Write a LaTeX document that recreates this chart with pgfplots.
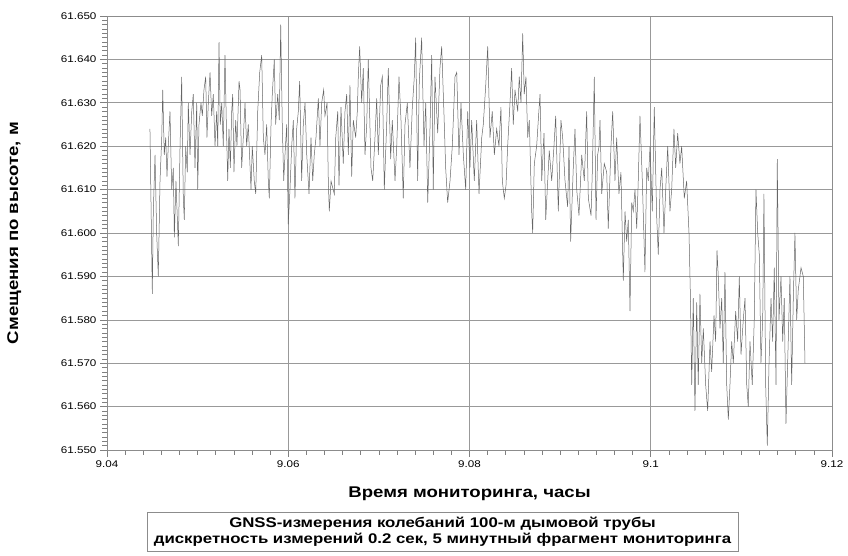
\documentclass[border=0pt]{standalone}
\usepackage{fontspec}
\setmainfont[FakeStretch=1.2]{Liberation Sans}
\usepackage{pgfplots}
\pgfplotsset{compat=1.18}
\begin{document}
\begin{tikzpicture}[x=1pt,y=1pt]
\path[use as bounding box] (0,0) rectangle (848,555);
\begin{axis}[
  at={(107pt,105pt)}, anchor=south west,
  width=725pt, height=434pt, scale only axis,
  xmin=9.04, xmax=9.12, ymin=61.55, ymax=61.65,
  xtick={9.04,9.06,9.08,9.1,9.12},
  xticklabels={9.04,9.06,9.08,9.1,9.12},
  ytick={61.55,61.56,61.57,61.58,61.59,61.60,61.61,61.62,61.63,61.64,61.65},
  yticklabels={61.550,61.560,61.570,61.580,61.590,61.600,61.610,61.620,61.630,61.640,61.650},
  minor x tick num=9, minor y tick num=9,
  xtick pos=bottom, ytick pos=left,
  tick align=outside,
  major tick length=7pt, minor tick length=5pt,
  tick style={black!50, line width=0.6pt},
  grid=major, major grid style={black!40, line width=0.6pt},
  minor grid style={draw=none},
  axis line style={black!45, line width=0.8pt},
  ticklabel style={font=\fontsize{9.7}{12}\selectfont},
  xlabel={Время мониторинга, часы},
  ylabel={Смещения по высоте, м},
  xlabel style={font=\bfseries\fontsize{15.5}{18}\selectfont, at={(axis description cs:0.5,-0.101)}, anchor=center},
  ylabel style={font=\bfseries\fontsize{15.5}{18}\selectfont, at={(axis description cs:-0.128,0.5)}, anchor=center},
  clip=true,
]
\addplot[black!60, line width=0.5pt, mark=none] table {
9.04474 61.624
9.04500 61.586
9.04511 61.605
9.04530 61.618
9.04548 61.600
9.04566 61.590
9.04585 61.612
9.04604 61.622
9.04615 61.633
9.04632 61.618
9.04648 61.622
9.04662 61.613
9.04676 61.620
9.04695 61.628
9.04714 61.610
9.04732 61.615
9.04743 61.599
9.04761 61.612
9.04787 61.597
9.04806 61.620
9.04824 61.636
9.04842 61.608
9.04853 61.603
9.04868 61.620
9.04886 61.614
9.04897 61.630
9.04916 61.618
9.04935 61.628
9.04952 61.632
9.04971 61.615
9.04990 61.630
9.05001 61.610
9.05015 61.625
9.05037 61.630
9.05052 61.627
9.05070 61.633
9.05089 61.636
9.05103 61.622
9.05118 61.630
9.05137 61.637
9.05155 61.627
9.05173 61.632
9.05192 61.620
9.05210 61.628
9.05222 61.620
9.05236 61.644
9.05250 61.625
9.05266 61.630
9.05283 61.620
9.05302 61.641
9.05316 61.626
9.05332 61.612
9.05346 61.624
9.05361 61.615
9.05376 61.628
9.05387 61.632
9.05401 61.614
9.05420 61.626
9.05434 61.620
9.05457 61.635
9.05468 61.633
9.05486 61.615
9.05504 61.622
9.05523 61.630
9.05541 61.620
9.05559 61.625
9.05589 61.610
9.05603 61.620
9.05625 61.612
9.05641 61.609
9.05663 61.628
9.05685 61.637
9.05707 61.641
9.05725 61.622
9.05743 61.618
9.05762 61.625
9.05780 61.612
9.05791 61.608
9.05810 61.625
9.05824 61.632
9.05846 61.640
9.05861 61.625
9.05884 61.632
9.05901 61.626
9.05917 61.648
9.05934 61.625
9.05950 61.612
9.05964 61.618
9.05983 61.625
9.06000 61.602
9.06019 61.610
9.06038 61.620
9.06056 61.626
9.06074 61.608
9.06093 61.624
9.06111 61.628
9.06126 61.635
9.06148 61.612
9.06166 61.625
9.06185 61.630
9.06204 61.618
9.06229 61.609
9.06251 61.622
9.06270 61.612
9.06287 61.618
9.06306 61.622
9.06332 61.631
9.06350 61.620
9.06369 61.630
9.06391 61.633
9.06405 61.627
9.06428 61.630
9.06442 61.612
9.06453 61.605
9.06472 61.612
9.06508 61.609
9.06524 61.622
9.06546 61.628
9.06560 61.611
9.06582 61.629
9.06607 61.616
9.06626 61.628
9.06645 61.632
9.06663 61.618
9.06681 61.634
9.06700 61.613
9.06718 61.626
9.06744 61.622
9.06762 61.628
9.06773 61.636
9.06788 61.643
9.06810 61.630
9.06828 61.638
9.06847 61.618
9.06866 61.625
9.06883 61.640
9.06913 61.615
9.06932 61.612
9.06957 61.622
9.06976 61.631
9.06994 61.618
9.07020 61.634
9.07038 61.636
9.07060 61.610
9.07086 61.625
9.07104 61.638
9.07130 61.617
9.07148 61.626
9.07178 61.612
9.07197 61.620
9.07222 61.636
9.07244 61.626
9.07269 61.608
9.07288 61.625
9.07314 61.630
9.07343 61.615
9.07369 61.629
9.07391 61.636
9.07406 61.645
9.07428 61.612
9.07446 61.635
9.07472 61.645
9.07498 61.620
9.07517 61.630
9.07539 61.607
9.07564 61.624
9.07583 61.641
9.07600 61.610
9.07619 61.636
9.07649 61.623
9.07674 61.638
9.07693 61.643
9.07719 61.627
9.07737 61.615
9.07759 61.607
9.07785 61.612
9.07810 61.620
9.07840 61.636
9.07859 61.637
9.07884 61.618
9.07906 61.630
9.07932 61.618
9.07958 61.610
9.07980 61.628
9.08005 61.615
9.08024 61.626
9.08053 61.612
9.08079 61.626
9.08105 61.609
9.08135 61.622
9.08152 61.625
9.08179 61.634
9.08201 61.643
9.08226 61.622
9.08251 61.628
9.08274 61.618
9.08300 61.624
9.08325 61.620
9.08347 61.629
9.08362 61.612
9.08384 61.608
9.08403 61.611
9.08421 61.620
9.08447 61.630
9.08465 61.638
9.08483 61.625
9.08502 61.633
9.08532 61.628
9.08549 61.636
9.08568 61.630
9.08587 61.646
9.08604 61.632
9.08623 61.636
9.08642 61.622
9.08660 61.626
9.08686 61.605
9.08697 61.600
9.08715 61.616
9.08741 61.620
9.08759 61.626
9.08778 61.632
9.08797 61.612
9.08822 61.623
9.08841 61.603
9.08858 61.610
9.08880 61.619
9.08907 61.612
9.08932 61.620
9.08951 61.627
9.08980 61.605
9.09009 61.626
9.09028 61.622
9.09054 61.612
9.09083 61.606
9.09098 61.620
9.09116 61.598
9.09145 61.615
9.09164 61.624
9.09183 61.610
9.09208 61.604
9.09238 61.618
9.09267 61.612
9.09293 61.628
9.09311 61.608
9.09341 61.604
9.09355 61.614
9.09377 61.636
9.09396 61.603
9.09414 61.618
9.09429 61.620
9.09440 61.626
9.09459 61.609
9.09487 61.616
9.09514 61.614
9.09531 61.601
9.09561 61.620
9.09580 61.628
9.09605 61.612
9.09624 61.622
9.09649 61.609
9.09671 61.614
9.09697 61.589
9.09716 61.605
9.09734 61.598
9.09752 61.603
9.09771 61.582
9.09790 61.607
9.09807 61.605
9.09826 61.610
9.09845 61.601
9.09862 61.612
9.09881 61.627
9.09907 61.612
9.09936 61.591
9.09955 61.615
9.09973 61.612
9.09992 61.620
9.10017 61.605
9.10039 61.629
9.10065 61.604
9.10083 61.595
9.10102 61.610
9.10121 61.615
9.10146 61.600
9.10165 61.610
9.10187 61.620
9.10212 61.605
9.10231 61.610
9.10256 61.624
9.10275 61.615
9.10297 61.623
9.10322 61.616
9.10341 61.620
9.10370 61.608
9.10396 61.612
9.10422 61.600
9.10438 61.585
9.10452 61.565
9.10469 61.585
9.10488 61.559
9.10507 61.584
9.10524 61.565
9.10543 61.586
9.10562 61.570
9.10580 61.578
9.10606 61.565
9.10628 61.559
9.10654 61.575
9.10672 61.568
9.10698 61.581
9.10716 61.575
9.10731 61.596
9.10745 61.590
9.10764 61.578
9.10783 61.585
9.10800 61.570
9.10819 61.591
9.10838 61.565
9.10856 61.557
9.10874 61.565
9.10893 61.575
9.10911 61.570
9.10937 61.582
9.10959 61.575
9.10977 61.590
9.10996 61.572
9.11021 61.580
9.11040 61.585
9.11059 61.565
9.11076 61.560
9.11095 61.575
9.11120 61.565
9.11142 61.580
9.11161 61.610
9.11180 61.600
9.11198 61.595
9.11216 61.570
9.11235 61.580
9.11249 61.609
9.11268 61.565
9.11286 61.551
9.11305 61.570
9.11327 61.585
9.11345 61.575
9.11363 61.592
9.11382 61.565
9.11396 61.617
9.11415 61.580
9.11437 61.590
9.11456 61.575
9.11473 61.585
9.11492 61.556
9.11517 61.575
9.11536 61.590
9.11555 61.565
9.11573 61.585
9.11591 61.600
9.11610 61.580
9.11628 61.587
9.11658 61.592
9.11683 61.590
9.11702 61.570
};
\end{axis}
\node[draw=black!45, line width=0.8pt, minimum width=591pt, minimum height=39pt, align=center,
      font=\bfseries\fontsize{14}{16}\selectfont, inner sep=2pt] at (442.5,23.5)
  {GNSS-измерения колебаний 100-м дымовой трубы\\дискретность измерений 0.2 сек, 5 минутный фрагмент мониторинга};
\end{tikzpicture}
\end{document}
